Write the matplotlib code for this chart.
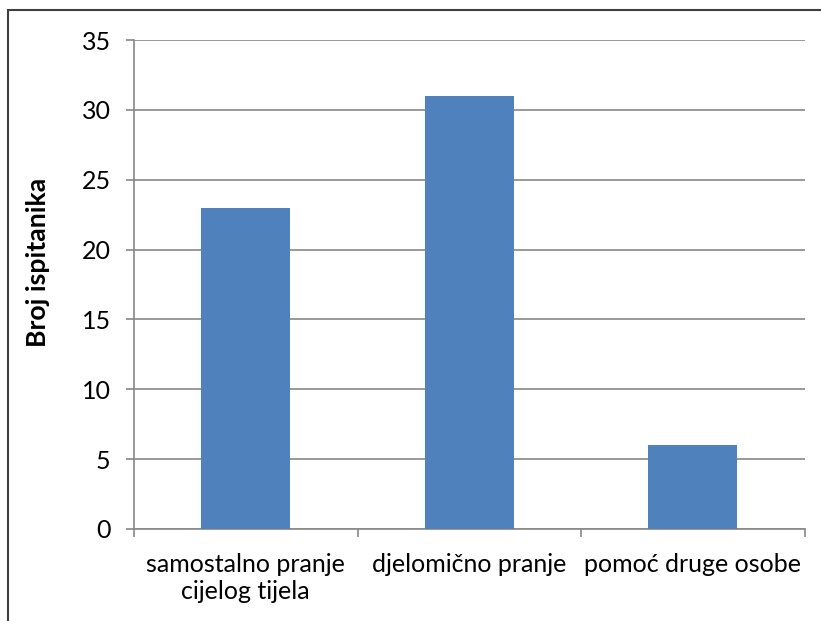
import matplotlib
matplotlib.use("Agg")
import matplotlib.pyplot as plt
from matplotlib.patches import Rectangle

categories = ["samostalno pranje\ncijelog tijela", "djelomično pranje", "pomoć druge osobe"]
values = [23, 31, 6]
y_ticks = [0, 5, 10, 15, 20, 25, 30, 35]
y_label = "Broj ispitanika"

plt.rcParams["font.family"] = ["Lato", "DejaVu Sans"]

W, H = 821, 621
fig = plt.figure(figsize=(W / 100, H / 100), dpi=100)
ax = fig.add_axes([134 / W, 1 - 529 / H, (804.5 - 134) / W, (529 - 40) / H])

bar_color = "#4F81BD"
grid_color = "#888888"
tick_len = 5.8  # points

x = list(range(len(categories)))
ax.bar(x, values, width=0.4, color=bar_color, zorder=3)

ax.set_xlim(-0.5, len(categories) - 0.5)
ax.set_ylim(0, 35)
ax.set_yticks(y_ticks)
ax.tick_params(axis="y", labelsize=18, length=tick_len, width=1.2, color=grid_color, pad=11)
ax.yaxis.grid(True, color=grid_color, linewidth=1.2, zorder=0)

# category boundaries carry the x tick marks
ax.set_xticks([i - 0.5 for i in range(len(categories) + 1)])
ax.set_xticklabels([])
ax.tick_params(axis="x", length=tick_len, width=1.2, color=grid_color)
ax.set_xticks(x, minor=True)
ax.set_xticklabels(categories, minor=True, fontsize=18, linespacing=1.22)
ax.tick_params(axis="x", which="minor", length=0, pad=17)

for side in ["top", "right"]:
    ax.spines[side].set_visible(False)
for side in ["left", "bottom"]:
    ax.spines[side].set_color(grid_color)
    ax.spines[side].set_linewidth(1.2)

ax.set_ylabel(y_label, fontsize=19.2, fontweight="bold")
ax.yaxis.set_label_coords(38 / W, 1 - 262.5 / H, transform=fig.transFigure)
ax.yaxis.label.set_va("center")

# outer frame of the chart area
fig.patches.append(Rectangle((8 / W, -0.1), 1.2, 1 - 10 / H + 0.1, transform=fig.transFigure,
                             fill=False, edgecolor="#404040", linewidth=1.5))

fig.savefig("out.png", dpi=100)
